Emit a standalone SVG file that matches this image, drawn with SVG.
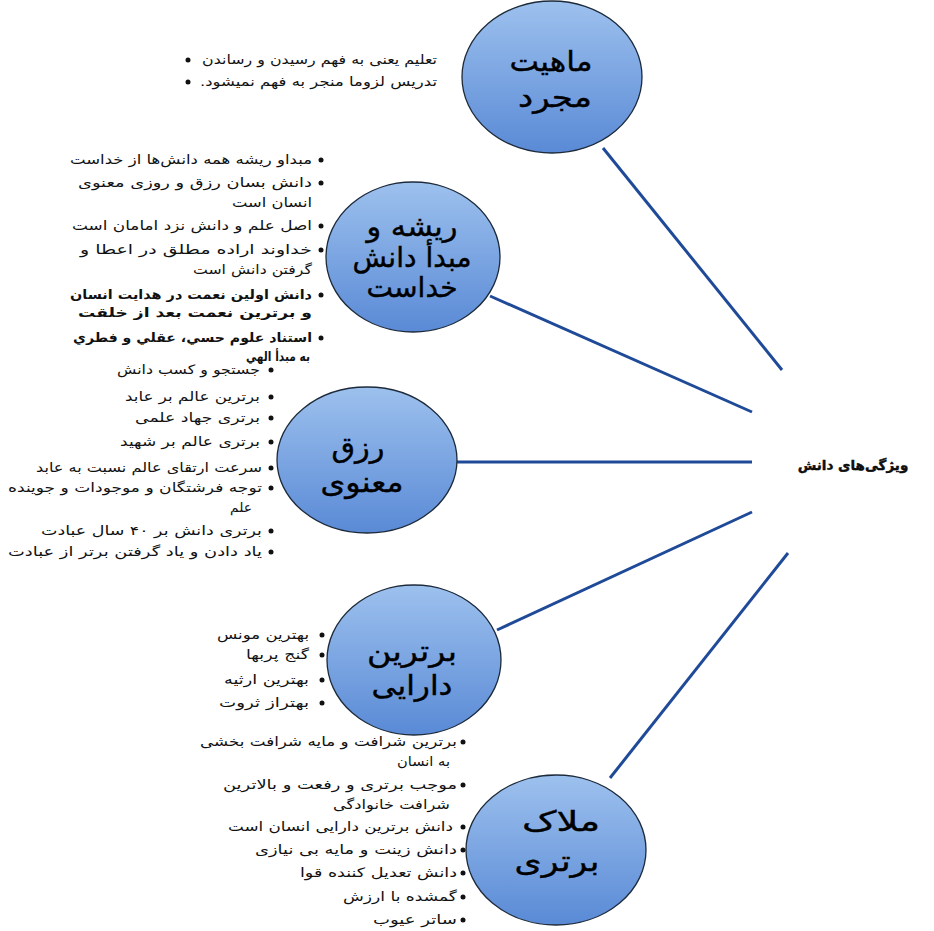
<svg xmlns="http://www.w3.org/2000/svg" width="934" height="931" viewBox="0 0 934 931">
<defs>
<linearGradient id="g" x1="0" y1="0" x2="0" y2="1">
<stop offset="0" stop-color="#9dc1ee"/>
<stop offset="1" stop-color="#5a8ad6"/>
</linearGradient>
<style>
.c{fill:url(#g);stroke:#1d2a3a;stroke-width:1.3}
.ct{font-family:"DejaVu Sans","Liberation Sans",sans-serif;font-size:28px;fill:#000;stroke:#000;stroke-width:0.4;text-anchor:middle}
.b{font-family:"DejaVu Sans","Liberation Sans",sans-serif;font-size:13px;fill:#111}
.r{direction:rtl;text-anchor:start}
.bd{font-weight:bold}
.d{fill:#111}
.ln{stroke:#1f4a98;stroke-width:3;fill:none}
</style>
</defs>
<rect width="934" height="931" fill="#fff"/>
<g id="connectors">
<line class="ln" x1="603" y1="148" x2="782" y2="370"/>
<line class="ln" x1="490" y1="296" x2="752" y2="412"/>
<line class="ln" x1="457" y1="462" x2="752" y2="462"/>
<line class="ln" x1="497" y1="630" x2="752" y2="512"/>
<line class="ln" x1="610" y1="778" x2="788" y2="553"/>
</g>
<g id="center">
<text x="853" y="470" class="b bd" style="font-size:13.5px;text-anchor:middle;stroke:#000;stroke-width:0.4" direction="rtl">ویژگی‌های دانش</text>
</g>
<g id="node-mahiat">
<ellipse class="c" cx="552" cy="77" rx="90" ry="76"/>
<text class="ct" direction="rtl" x="551" y="71" textLength="83" lengthAdjust="spacingAndGlyphs">ماهیت</text>
<text class="ct" direction="rtl" x="555" y="107" textLength="74" lengthAdjust="spacingAndGlyphs">مجرد</text>
<circle class="d" cx="188" cy="60" r="2.5"/>
<circle class="d" cx="188" cy="82" r="2.5"/>
<text class="b r" x="437" y="64" textLength="235" lengthAdjust="spacingAndGlyphs">تعلیم یعنی به فهم رسیدن و رساندن</text>
<text class="b r" x="437" y="86" textLength="237" lengthAdjust="spacingAndGlyphs">تدریس لزوما منجر به فهم نمیشود.</text>
</g>
<g id="node-risheh">
<ellipse class="c" cx="413" cy="257" rx="87" ry="75"/>
<text class="ct" direction="rtl" x="412" y="236" textLength="91" lengthAdjust="spacingAndGlyphs">ریشه و</text>
<text class="ct" direction="rtl" x="412" y="267" textLength="119" lengthAdjust="spacingAndGlyphs">مبدأ دانش</text>
<text class="ct" direction="rtl" x="412" y="297" textLength="91" lengthAdjust="spacingAndGlyphs">خداست</text>
<circle class="d" cx="321" cy="160" r="2.5"/>
<circle class="d" cx="321" cy="183" r="2.5"/>
<circle class="d" cx="321" cy="226" r="2.5"/>
<circle class="d" cx="321" cy="250" r="2.5"/>
<circle class="d" cx="321" cy="295" r="2.5"/>
<circle class="d" cx="321" cy="338" r="2.5"/>
<text class="b r" x="312" y="164" textLength="242" lengthAdjust="spacingAndGlyphs">مبداو ریشه همه دانش‌ها از خداست</text>
<text class="b r" x="312" y="187" textLength="234" lengthAdjust="spacingAndGlyphs">دانش بسان رزق و روزی معنوی</text>
<text class="b r" x="312" y="207" textLength="80" lengthAdjust="spacingAndGlyphs">انسان است</text>
<text class="b r" x="312" y="230" textLength="240" lengthAdjust="spacingAndGlyphs">اصل علم و دانش نزد امامان است</text>
<text class="b r" x="312" y="254" textLength="232" lengthAdjust="spacingAndGlyphs">خداوند اراده مطلق در اعطا و</text>
<text class="b r" x="312" y="274" textLength="119" lengthAdjust="spacingAndGlyphs">گرفتن دانش است</text>
<text class="b r bd" x="312" y="299" textLength="242" lengthAdjust="spacingAndGlyphs">دانش اولین نعمت در هدایت انسان</text>
<text class="b r bd" x="312" y="317" textLength="234" lengthAdjust="spacingAndGlyphs">و برترین نعمت بعد از خلقت</text>
<text class="b r bd" x="312" y="342" textLength="239" lengthAdjust="spacingAndGlyphs">استناد علوم حسي، عقلي و فطري</text>
<text class="b r bd" x="310" y="361" textLength="64" lengthAdjust="spacingAndGlyphs">به مبدأ الهي</text>
</g>
<g id="node-rezgh">
<ellipse class="c" cx="367" cy="460" rx="90" ry="73"/>
<text class="ct" direction="rtl" x="358" y="457" textLength="53" lengthAdjust="spacingAndGlyphs">رزق</text>
<text class="ct" direction="rtl" x="362" y="492" textLength="83" lengthAdjust="spacingAndGlyphs">معنوی</text>
<circle class="d" cx="271" cy="370" r="2.5"/>
<circle class="d" cx="271" cy="397" r="2.5"/>
<circle class="d" cx="271" cy="418" r="2.5"/>
<circle class="d" cx="271" cy="442" r="2.5"/>
<circle class="d" cx="271" cy="468" r="2.5"/>
<circle class="d" cx="271" cy="488" r="2.5"/>
<circle class="d" cx="271" cy="531" r="2.5"/>
<circle class="d" cx="271" cy="552" r="2.5"/>
<text class="b r" x="260" y="374" textLength="143" lengthAdjust="spacingAndGlyphs">جستجو و کسب دانش</text>
<text class="b r" x="260" y="401" textLength="135" lengthAdjust="spacingAndGlyphs">برترین عالم بر عابد</text>
<text class="b r" x="260" y="422" textLength="125" lengthAdjust="spacingAndGlyphs">برتری جهاد علمی</text>
<text class="b r" x="260" y="446" textLength="140" lengthAdjust="spacingAndGlyphs">برتری عالم بر شهید</text>
<text class="b r" x="262" y="472" textLength="226" lengthAdjust="spacingAndGlyphs">سرعت ارتقای عالم نسبت به عابد</text>
<text class="b r" x="262" y="492" textLength="254" lengthAdjust="spacingAndGlyphs">توجه فرشتگان و موجودات و جوینده</text>
<text class="b r" x="252" y="512" textLength="22" lengthAdjust="spacingAndGlyphs">علم</text>
<text class="b r" x="262" y="535" textLength="221" lengthAdjust="spacingAndGlyphs">برتری دانش بر ۴۰ سال عبادت</text>
<text class="b r" x="262" y="556" textLength="254" lengthAdjust="spacingAndGlyphs">یاد دادن و یاد گرفتن برتر از عبادت</text>
</g>
<g id="node-bartarin">
<ellipse class="c" cx="414" cy="660" rx="87" ry="75"/>
<text class="ct" direction="rtl" x="412" y="661" textLength="90" lengthAdjust="spacingAndGlyphs">برترین</text>
<text class="ct" direction="rtl" x="412" y="695" textLength="81" lengthAdjust="spacingAndGlyphs">دارایی</text>
<circle class="d" cx="322" cy="635" r="2.5"/>
<circle class="d" cx="322" cy="655" r="2.5"/>
<circle class="d" cx="322" cy="680" r="2.5"/>
<circle class="d" cx="322" cy="703" r="2.5"/>
<text class="b r" x="309" y="639" textLength="92" lengthAdjust="spacingAndGlyphs">بهترین مونس</text>
<text class="b r" x="309" y="659" textLength="63" lengthAdjust="spacingAndGlyphs">گنج پربها</text>
<text class="b r" x="309" y="684" textLength="85" lengthAdjust="spacingAndGlyphs">بهترین ارثیه</text>
<text class="b r" x="309" y="707" textLength="90" lengthAdjust="spacingAndGlyphs">بهتراز ثروت</text>
</g>
<g id="node-malak">
<ellipse class="c" cx="556" cy="850" rx="90" ry="75"/>
<text class="ct" direction="rtl" x="561" y="831" textLength="78" lengthAdjust="spacingAndGlyphs">ملاک</text>
<text class="ct" direction="rtl" x="557" y="871" textLength="85" lengthAdjust="spacingAndGlyphs">برتری</text>
<circle class="d" cx="463" cy="742" r="2.5"/>
<circle class="d" cx="463" cy="785" r="2.5"/>
<circle class="d" cx="463" cy="827" r="2.5"/>
<circle class="d" cx="463" cy="850" r="2.5"/>
<circle class="d" cx="463" cy="873" r="2.5"/>
<circle class="d" cx="463" cy="897" r="2.5"/>
<circle class="d" cx="463" cy="920" r="2.5"/>
<text class="b r" x="457" y="746" textLength="257" lengthAdjust="spacingAndGlyphs">برترین شرافت و مایه شرافت بخشی</text>
<text class="b r" x="450" y="766" textLength="53" lengthAdjust="spacingAndGlyphs">به انسان</text>
<text class="b r" x="457" y="789" textLength="234" lengthAdjust="spacingAndGlyphs">موجب برتری و رفعت و بالاترین</text>
<text class="b r" x="450" y="809" textLength="117" lengthAdjust="spacingAndGlyphs">شرافت خانوادگی</text>
<text class="b r" x="453" y="831" textLength="225" lengthAdjust="spacingAndGlyphs">دانش برترین دارایی انسان است</text>
<text class="b r" x="457" y="854" textLength="202" lengthAdjust="spacingAndGlyphs">دانش زینت و مایه بی نیازی</text>
<text class="b r" x="457" y="877" textLength="157" lengthAdjust="spacingAndGlyphs">دانش تعدیل کننده قوا</text>
<text class="b r" x="457" y="901" textLength="114" lengthAdjust="spacingAndGlyphs">گمشده با ارزش</text>
<text class="b r" x="457" y="924" textLength="84" lengthAdjust="spacingAndGlyphs">ساتر عیوب</text>
</g>
</svg>
